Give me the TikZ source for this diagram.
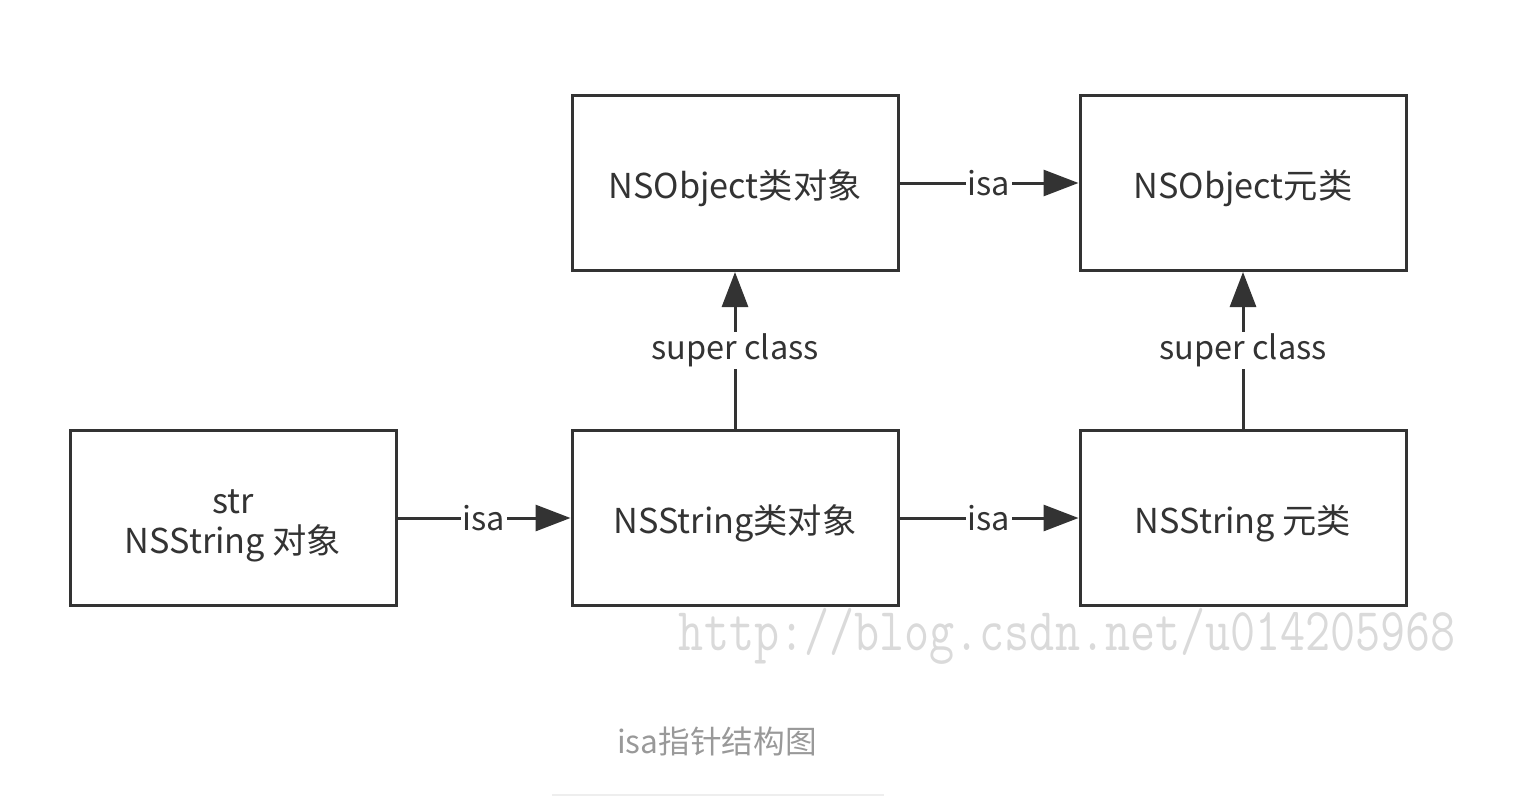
\documentclass[tikz,border=0pt]{standalone}
\usepackage{fontspec}
\setmainfont{Noto Sans CJK SC}
\usepackage{tikz}
\usetikzlibrary{
    arrows.meta,
    positioning
}
\definecolor{ink}{HTML}{333333}
\definecolor{capgray}{HTML}{999999}
\definecolor{markgray}{HTML}{DADADA}
\definecolor{rulegray}{HTML}{EEEEEE}

\begin{document}
\begin{tikzpicture}[
  box/.style={rectangle,draw=ink,line width=0.06cm,align=center,
    minimum height=3.5cm,minimum width=6.52cm,text=ink,
    font=\fontsize{19.5}{23}\selectfont},
  arrow/.style={-{Triangle[length=0.7cm,width=0.52cm]},line width=0.06cm,draw=ink},
  lbl/.style={midway,fill=white,inner sep=1pt,text=ink,
    font=\fontsize{18.5}{20}\selectfont}
]
\useasboundingbox (0,0) rectangle (30.48,-16.16);
\node[box] (strobj) at (4.66,-10.36) {\rule{0pt}{0.8cm}str\\NSString 对象};
\node[box, right=3.46cm of strobj] (nsstrcls) {\rule{0pt}{0.8cm}NSString类对象};
\node[box, right=3.58cm of nsstrcls] (nsstrmeta) {\rule{0pt}{0.8cm}NSString 元类};
\node[box, above=3.14cm of nsstrcls] (nsobjcls) {\rule{0pt}{0.8cm}NSObject类对象};
\node[box, above=3.14cm of nsstrmeta] (nsobjmeta) {\rule{0pt}{0.8cm}NSObject元类};
\draw[arrow] (strobj) -- node[lbl] {isa} (nsstrcls);
\draw[arrow] (nsstrcls) -- node[lbl] {isa} (nsstrmeta);
\draw[arrow] (nsobjcls) -- node[lbl] {isa} (nsobjmeta);
\draw[arrow] (nsstrcls) -- node[lbl] {super class} (nsobjcls);
\draw[arrow] (nsstrmeta) -- node[lbl] {super class} (nsobjmeta);
% watermark and caption
\node[text=markgray,font=\ttfamily\fontsize{27.7}{28}\selectfont,yscale=1.25]
  (mark) at (21.35,-12.72) {http://blog.csdn.net/u014205968};
\node[text=capgray,font=\fontsize{18}{22}\selectfont] (caption) at (14.34,-14.82) {isa指针结构图};
\coordinate (ruleL) at (11.04,-15.9);
\coordinate (ruleR) at (17.68,-15.9);
\draw[rulegray,line width=0.04cm] (ruleL) -- (ruleR);
\end{tikzpicture}
\end{document}
